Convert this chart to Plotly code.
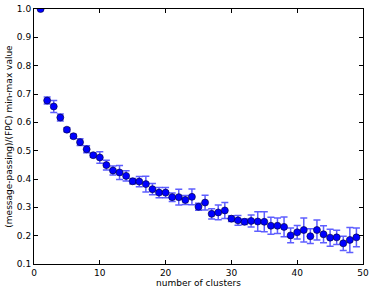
import plotly.graph_objects as go

clusters = list(range(1, 50))
values = [1.0, 0.677, 0.656, 0.617, 0.574, 0.551, 0.530, 0.505, 0.484, 0.476,
          0.449, 0.430, 0.423, 0.411, 0.392, 0.391, 0.382, 0.364, 0.352, 0.352,
          0.336, 0.336, 0.326, 0.337, 0.302, 0.317, 0.277, 0.282, 0.289, 0.260,
          0.254, 0.249, 0.252, 0.250, 0.249, 0.235, 0.235, 0.231, 0.201, 0.212,
          0.220, 0.198, 0.220, 0.205, 0.193, 0.194, 0.173, 0.185, 0.194]
errors = [0.0, 0.012, 0.021, 0.012, 0.007, 0.007, 0.012, 0.012, 0.007, 0.020,
          0.017, 0.016, 0.025, 0.018, 0.010, 0.018, 0.028, 0.020, 0.018, 0.018,
          0.015, 0.028, 0.016, 0.028, 0.012, 0.026, 0.018, 0.026, 0.028, 0.010,
          0.017, 0.010, 0.021, 0.034, 0.035, 0.030, 0.027, 0.035, 0.026, 0.024,
          0.042, 0.026, 0.035, 0.030, 0.030, 0.025, 0.025, 0.044, 0.033]
x_ticks = [0, 10, 20, 30, 40, 50]
y_ticks = [0.1, 0.2, 0.3, 0.4, 0.5, 0.6, 0.7, 0.8, 0.9, 1.0]

fig = go.Figure()
fig.add_trace(go.Scatter(
    x=clusters, y=values, mode="markers",
    marker=dict(color="#0000ff", size=7, line=dict(width=0.6, color="#000033")),
    error_y=dict(type="data", array=errors, visible=True,
                 color="rgba(40,40,255,0.75)", thickness=1.5, width=3.5),
    cliponaxis=True,
))

axis_common = dict(showgrid=False, zeroline=False, showline=True, linecolor="black",
                   linewidth=1, mirror="ticks", ticks="inside", ticklen=4,
                   tickcolor="black", automargin=False,
                   tickfont=dict(family="DejaVu Sans", size=9, color="black"))

fig.update_layout(
    width=374, height=290,
    margin=dict(l=34, r=11, t=9, b=26),
    paper_bgcolor="white", plot_bgcolor="white",
    showlegend=False,
    font=dict(family="DejaVu Sans", size=9, color="black"),
    xaxis=dict(range=[0, 50], tickvals=x_ticks, ticktext=[str(v) for v in x_ticks],
               title=dict(text="number of clusters", font=dict(size=9), standoff=2),
               **axis_common),
    yaxis=dict(range=[0.1, 1.0], tickvals=y_ticks, ticktext=[f"{v:.1f}" for v in y_ticks],
               title=dict(text="(message-passing)/(FPC) min-max value", font=dict(size=9), standoff=2),
               **axis_common),
)

fig.write_html("out.html", config={"displayModeBar": False},
               post_script="document.body.style.margin='0px';")
